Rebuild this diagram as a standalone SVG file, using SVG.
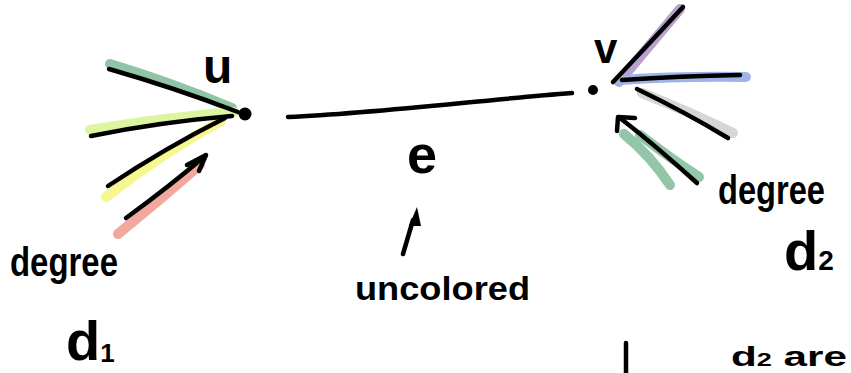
<svg xmlns="http://www.w3.org/2000/svg" width="851" height="373" viewBox="0 0 851 373">
<style>
.ink{fill:none;stroke:#000;stroke-width:4.5;stroke-linecap:round;stroke-linejoin:round}
.hl{fill:none;stroke-width:10;stroke-linecap:round;stroke-linejoin:round}
.t{font-family:"Liberation Sans","DejaVu Sans",sans-serif;font-weight:bold;fill:#000}
</style>
<rect width="851" height="373" fill="#fff"/>
<g id="connectors">
  <path class="hl" stroke="#8fc4a4" d="M110,64 Q170,82 232,108"/>
  <path class="hl" stroke="#dcf5a0" d="M90,130 Q160,118 234,112"/>
  <path class="hl" stroke="#f6f78f" d="M106,197 Q160,155 221,121"/>
  <path class="hl" stroke="#f2a89c" d="M118,234 Q160,200 200,165"/>
  <path class="hl" stroke="#b9a0cf" d="M680,9 Q650,45 619,82"/>
  <path class="hl" stroke="#9fb4e6" d="M620,80 Q680,76 746,77"/>
  <path class="hl" stroke="#d6d6d6" d="M642,93 Q690,112 733,133"/>
  <path class="hl" stroke="#93c6a9" d="M624,134 Q650,155 670,185"/>
  <path class="hl" stroke="#93c6a9" d="M640,135 Q670,158 699,177" stroke-width="8"/>
  <path class="ink" d="M109,69 Q175,88 238,112"/>
  <path class="ink" d="M91,136 Q160,122 232,116"/>
  <path class="ink" d="M108,186 Q165,148 225,118"/>
  <path class="ink" d="M126,218 Q170,186 205,156"/>
  <path class="ink" d="M187,165 L206,155 L199,171"/>
  <path class="ink" d="M288,117 C380,113 480,100 572,93" stroke-width="5"/>
  <path class="ink" d="M683,7 Q648,45 613,82"/>
  <path class="ink" d="M622,80 Q680,76 740,75"/>
  <path class="ink" d="M637,89 Q685,112 728,138"/>
  <path class="ink" d="M697,183 Q655,145 620,118"/>
  <path class="ink" d="M617,131 L618,117 L635,118"/>
  <path class="ink" d="M403,254 L413,220"/>
  <path d="M417,207 L409,226 L421,226 Z" fill="#000"/>
</g>
<g id="node-u">
  <circle cx="245" cy="114" r="6.5" fill="#000"/>
  <text class="t" x="203" y="83" font-size="48">u</text>
</g>
<g id="node-v">
  <circle cx="593" cy="90" r="5" fill="#000"/>
  <text class="t" x="594" y="63" font-size="42">v</text>
</g>
<g id="labels">
  <text class="t" x="407" y="173" font-size="54">e</text>
  <text class="t" x="355" y="300" font-size="34" textLength="175" lengthAdjust="spacingAndGlyphs">uncolored</text>
  <text class="t" x="10" y="276" font-size="40" textLength="108" lengthAdjust="spacingAndGlyphs">degree</text>
  <text class="t" x="66" y="360" font-size="56">d<tspan font-size="26" dy="2">1</tspan></text>
  <text class="t" x="718" y="204" font-size="40" textLength="107" lengthAdjust="spacingAndGlyphs">degree</text>
  <text class="t" x="784" y="270" font-size="56">d<tspan font-size="28">2</tspan></text>
  <path class="ink" d="M626,343 L626,373"/>
  <text class="t" x="731" y="366" font-size="28" textLength="116" lengthAdjust="spacingAndGlyphs">d<tspan font-size="18">2</tspan> are</text>
</g>
</svg>
